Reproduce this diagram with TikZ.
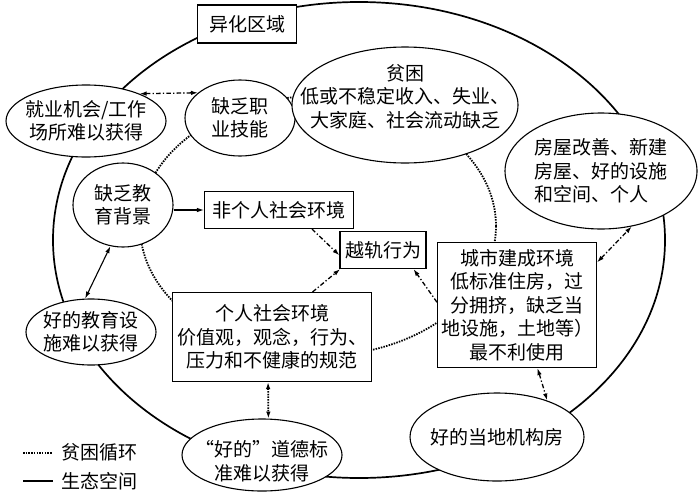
\documentclass[tikz,border=0pt]{standalone}
\usepackage{fontspec}
\setmainfont{Noto Sans CJK SC}
\usetikzlibrary{arrows.meta,shapes.geometric}
\begin{document}
\begin{tikzpicture}[x=1pt,y=-1pt,
  >={Latex[length=7pt,width=4.5pt]},
  every node/.style={font=\fontsize{19}{23.5}\selectfont, align=center},
  ell/.style={draw, line width=1.1pt, fill=white, ellipse, inner sep=-80pt},
  box/.style={draw, line width=1.1pt, fill=white, rectangle, inner sep=1pt},
  dashdot/.style={line width=1.3pt, dash pattern=on 4.5pt off 2.2pt on 1.3pt off 2.2pt},
  dotln/.style={line width=1.8pt, dash pattern=on 1.5pt off 1.2pt},
  solidln/.style={line width=1.1pt}
]
\useasboundingbox (0,0) rectangle (700,498);
\fill[white] (0,0) rectangle (700,498);
% ecological space and poverty cycle
\draw[line width=1.7pt] (359,240) ellipse [x radius=306pt, y radius=238pt];
\draw[dotln] (318,226) ellipse [x radius=178pt, y radius=130pt];

% nodes
\node[box, minimum width=99pt, minimum height=38pt] (alien) at (247,24) {异化区域};
\node[ell, minimum width=160pt, minimum height=72pt] (emp) at (86,121) {就业机会/工作\\场所难以获得};
\node[ell, minimum width=110pt, minimum height=76pt] (skill) at (240,118) {缺乏职\\业技能};
\node[ell, minimum width=226pt, minimum height=116pt] (pov) at (405,105) {贫困\\低或不稳定收入、失业、\\大家庭、社会流动缺乏\\[-5pt]\mbox{}};
\node[ell, minimum width=192pt, minimum height=116pt, align=left] (house) at (601,171) {房屋改善、新建\\房屋、好的设施\\和空间、个人};
\node[ell, minimum width=100pt, minimum height=84pt] (edu) at (123,205) {缺乏教\\育背景};
\node[box, minimum width=149pt, minimum height=37pt] (nonpers) at (279,210) {非个人社会环境};
\node[box, minimum width=86pt, minimum height=37pt] (dev) at (383,250) {越轨行为};
\node[box, minimum width=199pt, minimum height=89pt] (pers) at (272,337) {个人社会环境\\价值观，观念，行为、\\压力和不健康的规范};
\node[box, minimum width=159pt, minimum height=125pt] (city) at (517,305) {城市建成环境\\低标准住房，过\\分拥挤，缺乏当\\地设施，土地等）\\最不利使用};
\node[ell, minimum width=130pt, minimum height=66pt] (goodedu) at (91,332) {好的教育设\\施难以获得};
\node[ell, minimum width=160pt, minimum height=72pt] (moral) at (262,455) {\mbox{}\\[5pt]“好的”道德标\\准难以获得};
\node[ell, minimum width=174pt, minimum height=88pt] (local) at (497,437) {好的当地机构房};

% connectors
\draw[dashdot,<->] (emp.27) -- (skill.149);
\draw[solidln,->] (edu.east |- nonpers.west) -- (nonpers.west);
\draw[solidln,<->] (edu.-107) -- (goodedu.100);
\draw[dashdot,->] (nonpers.-30) -- (dev.187);
\draw[dashdot,->] (pers.48) -- (dev.204);
\draw[dashdot,->] (city.178) -- (dev.-32);
\draw[dashdot,<->] (city.28) -- (house.-61);
\draw[dashdot,<->] (city.-72) -- (local.36);
\draw[dotln,<->] (pers.-95) -- (moral.80);

% legend
\coordinate (l1a) at (23,453);
\coordinate (l1b) at (52,453);
\coordinate (l2a) at (23,481);
\coordinate (l2b) at (53,481);
\draw[dotln] (l1a) -- (l1b);
\draw[line width=1.5pt] (l2a) -- (l2b);
\node[anchor=west, inner sep=1pt] (lg1) at (60,452) {贫困循环};
\node[anchor=west, inner sep=1pt] (lg2) at (60,481) {生态空间};
\end{tikzpicture}
\end{document}
